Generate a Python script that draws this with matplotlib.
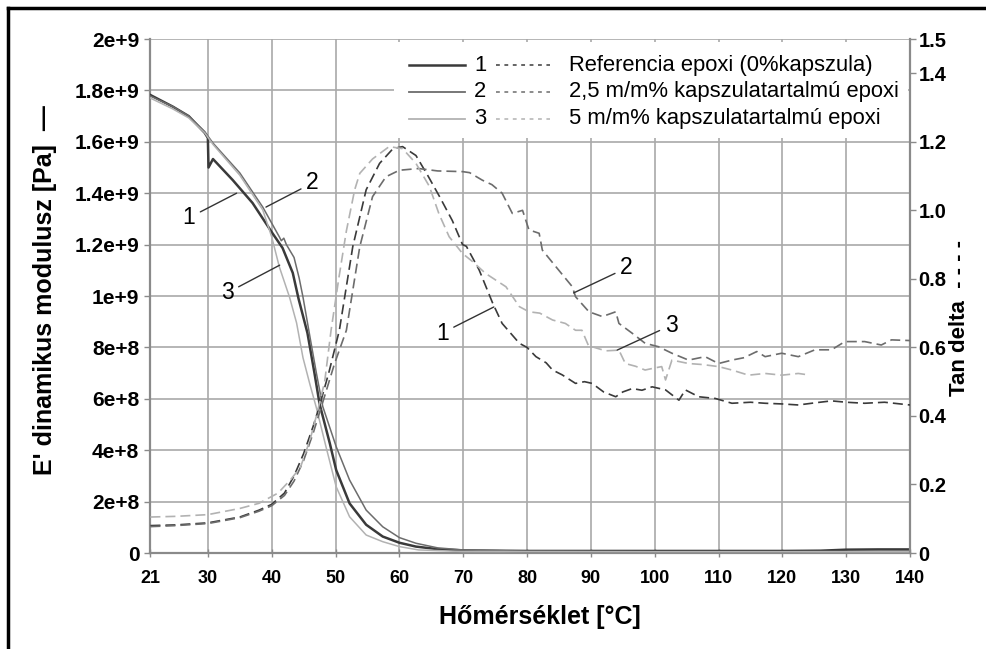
import numpy as np
import matplotlib.pyplot as plt
from matplotlib.patches import Rectangle
from matplotlib.lines import Line2D

plt.rcParams['font.family'] = ['Liberation Sans', 'DejaVu Sans']

# E' dinamikus modulusz (Pa), solid curves
t_e1 = [21, 24.5, 27, 29.5, 30, 30.1, 30.8, 33.9, 37, 40.1, 41.7, 43.3, 44.2, 45.6, 46.7,
        47.5, 49.1, 50.1, 52.2, 54.8, 57.4, 60, 62.6, 66, 70, 80, 100, 120, 126, 130, 135, 140]
e1 = [1.782, 1.737, 1.70, 1.635, 1.615, 1.50, 1.533, 1.451, 1.362, 1.245, 1.187, 1.09, 0.99, 0.856, 0.70,
      0.58, 0.427, 0.323, 0.193, 0.11, 0.064, 0.04, 0.025, 0.015, 0.01, 0.008, 0.008, 0.008, 0.009, 0.013, 0.014, 0.014]

t_e2 = [21, 24.5, 27, 29.5, 30.8, 35, 38.6, 41.2, 41.5, 41.9, 42.3, 43.5, 44.3, 44.9, 46, 47, 48,
        50.1, 52.2, 54.8, 57.4, 60, 62.6, 66, 70, 80, 100, 120, 140]
e2 = [1.778, 1.737, 1.70, 1.64, 1.595, 1.479, 1.346, 1.23, 1.215, 1.225, 1.2, 1.15, 1.07, 0.996, 0.84, 0.70, 0.57,
      0.414, 0.284, 0.167, 0.102, 0.06, 0.038, 0.02, 0.012, 0.007, 0.006, 0.006, 0.007]

t_e3 = [21, 24.5, 27, 29.5, 30.8, 35, 38.6, 40, 41.2, 42.8, 43.9, 44.9, 46, 47, 48.5, 50.1, 52.2,
        54.8, 57.4, 60, 63, 70, 100, 140]
e3 = [1.77, 1.728, 1.693, 1.635, 1.59, 1.47, 1.335, 1.23, 1.113, 0.995, 0.895, 0.76, 0.655, 0.565, 0.414, 0.258, 0.141,
      0.07, 0.044, 0.025, 0.012, 0.006, 0.005, 0.005]

# Tan delta, dashed curves
t_d1 = [21, 25, 30, 35, 38, 40, 42, 43.5, 45, 46.5, 47.5, 49, 50.6, 52.7, 54.8, 56.9, 59, 60.5, 62.6, 64.5,
        66.3, 68.3, 69.9, 70.5, 72.5, 74.6, 76.1, 77.5, 78.8, 80, 81.4, 83, 84, 85.5, 87.6, 89, 90.2, 92,
        93.9, 95, 96.5, 98, 99.6, 101.7, 103.8, 104.8, 106.9, 109.5, 112.1, 115, 117.3, 120, 122.5, 125,
        127.7, 130, 132.9, 136, 140]
d1 = [0.08, 0.082, 0.088, 0.105, 0.125, 0.142, 0.175, 0.225, 0.29, 0.37, 0.43, 0.53, 0.65, 0.894, 1.06, 1.137, 1.18, 1.186, 1.16, 1.10,
      1.04, 0.97, 0.90, 0.895, 0.826, 0.73, 0.67, 0.64, 0.612, 0.60, 0.573, 0.555, 0.534, 0.52, 0.495, 0.50, 0.495, 0.47,
      0.456, 0.47, 0.48, 0.475, 0.485, 0.476, 0.446, 0.476, 0.456, 0.451, 0.437, 0.44, 0.437, 0.435, 0.432, 0.438,
      0.444, 0.44, 0.437, 0.44, 0.432]

t_d2 = [21, 25, 30, 35, 38, 40, 42, 43.5, 45, 46.5, 48, 49.8, 51.7, 53.8, 55.8, 57.9, 60, 63, 66, 69.9, 71,
        73, 74.5, 76.1, 77.7, 79.3, 80.3, 81.9, 82.4, 84.5, 87.1, 87.6, 89.7, 91.8, 93.9, 94.4, 96.5, 98.5,
        100.6, 102.7, 105.3, 107.9, 110, 112.1, 114, 116, 117.3, 119.9, 122.5, 125.1, 127.7, 129.8, 132.9,
        135.5, 137.1, 140]
d2 = [0.077, 0.08, 0.086, 0.103, 0.122, 0.138, 0.168, 0.21, 0.27, 0.35, 0.44, 0.55, 0.65, 0.894, 1.04, 1.098, 1.117, 1.122, 1.115, 1.113, 1.11,
      1.088, 1.075, 1.05, 0.991, 1.0, 0.943, 0.933, 0.884, 0.836, 0.777, 0.748, 0.704, 0.69, 0.704, 0.67, 0.641, 0.612,
      0.602, 0.583, 0.563, 0.573, 0.553, 0.563, 0.57, 0.588, 0.573, 0.583, 0.573, 0.593, 0.593, 0.617, 0.617,
      0.607, 0.622, 0.62]

t_d3 = [21, 25, 30, 35, 38, 41, 43, 44.5, 46, 47, 48.3, 49.3, 50.5, 51.7, 53, 53.8, 55.8, 58.4, 60.5, 62.6,
        64.7, 66.2, 67.8, 69.9, 71.5, 73.5, 76.7, 78.8, 80.3, 82, 84, 86, 87.6, 88.6, 89.7, 90.2, 92.3, 94.4,
        95.4, 97, 98.5, 100, 101.1, 101.7, 102.7, 105.3, 107.5, 110, 112.1, 114.7, 117.3, 119.9, 122.5, 124]
d3 = [0.105, 0.107, 0.112, 0.13, 0.145, 0.175, 0.215, 0.25, 0.33, 0.40, 0.50, 0.65, 0.80, 0.94, 1.06, 1.108, 1.15, 1.186, 1.18, 1.137,
      1.07, 0.99, 0.923, 0.874, 0.85, 0.816, 0.777, 0.719, 0.704, 0.70, 0.68, 0.67, 0.65, 0.65, 0.602, 0.602, 0.59, 0.592,
      0.553, 0.545, 0.534, 0.54, 0.544, 0.505, 0.563, 0.553, 0.55, 0.544, 0.534, 0.519, 0.524, 0.519, 0.524, 0.52]

x_ticks = [21, 30, 40, 50, 60, 70, 80, 90, 100, 110, 120, 130, 140]
e_ticks = [0, 2e8, 4e8, 6e8, 8e8, 1e9, 1.2e9, 1.4e9, 1.6e9, 1.8e9, 2e9]
e_tick_labels = ['0', '2e+8', '4e+8', '6e+8', '8e+8', '1e+9', '1.2e+9', '1.4e+9', '1.6e+9', '1.8e+9', '2e+9']
d_ticks = [0, 0.2, 0.4, 0.6, 0.8, 1.0, 1.2, 1.4, 1.5]
d_tick_labels = ['0', '0.2', '0.4', '0.6', '0.8', '1.0', '1.2', '1.4', '1.5']

legend_labels = ['Referencia epoxi (0%kapszula)', '2,5 m/m% kapszulatartalmú epoxi',
                 '5 m/m% kapszulatartalmú epoxi']
colors = ['#3a3a3a', '#6c6c6c', '#b2b2b2']
solid_lw = [1.8, 1.1, 1.1]

fig = plt.figure(figsize=(9.87, 6.49), dpi=100)
ax = fig.add_axes([0.1524, 0.1479, 0.7696, 0.792])
ax2 = ax.twinx()

for t, e, c, lw in zip([t_e1, t_e2, t_e3], [e1, e2, e3], colors, solid_lw):
    ax.plot(t, np.array(e) * 1e9, color=c, lw=lw, zorder=3)
for t, d, c in zip([t_d1, t_d2, t_d3], [d1, d2, d3], colors):
    ax2.plot(t, d, color=c, lw=1.2, ls=(0, (6, 3)), zorder=3)

ax.set_xlim(21, 140)
ax.set_ylim(0, 2e9)
ax2.set_ylim(0, 1.5)
ax.set_xticks(x_ticks)
ax.set_yticks(e_ticks)
ax.set_yticklabels(e_tick_labels)
ax2.set_yticks(d_ticks)
ax2.set_yticklabels(d_tick_labels)

ax.grid(True, color='#a9a9a9', lw=1.2)
ax.set_axisbelow(True)
for a in (ax, ax2):
    a.spines['top'].set_visible(False)
    for s in ('left', 'right', 'bottom'):
        a.spines[s].set_color('#8a8a8a')
        a.spines[s].set_linewidth(1.6)
ax.spines['right'].set_visible(False)
ax2.spines['left'].set_visible(False)
ax2.spines['bottom'].set_visible(False)

ax.tick_params(axis='y', direction='out', length=4, width=1, color='#8a8a8a', pad=4,
               labelsize=15)
ax2.tick_params(axis='y', direction='out', length=4, width=1, color='#8a8a8a', pad=2,
                labelsize=14.5)
ax.tick_params(axis='x', direction='inout', length=6, width=1, color='#8a8a8a', pad=9)
for lab in ax.get_yticklabels() + ax2.get_yticklabels():
    lab.set_fontweight('bold')
for lab in ax.get_xticklabels():
    lab.set_fontweight('bold')
    lab.set_fontsize(13)
    lab.set_family(['Liberation Sans Narrow', 'Liberation Sans'])

fig.text(45 / 987, 1 - 290 / 649, "E' dinamikus modulusz [Pa]  \u2014", rotation=90,
         ha='center', va='center', fontsize=18, fontweight='bold')
fig.text(960 / 987, 1 - 318 / 649, 'Tan delta  - - - -', rotation=90,
         ha='center', va='center', fontsize=16, fontweight='bold')
fig.text(540 / 987, 1 - 617 / 649, 'Hőmérséklet [°C]', ha='center', va='center',
         fontsize=18, fontweight='bold')

# legend box
ax2.add_patch(Rectangle((0.321, 0.807), 0.676, 0.187, transform=ax2.transAxes,
                        facecolor='white', edgecolor='none', zorder=2))
rows = [0.949, 0.897, 0.845]
for i, (lab, c, lw) in enumerate(zip(legend_labels, colors, solid_lw)):
    y = rows[i]
    ax2.add_line(Line2D([0.340, 0.414], [y, y], transform=ax2.transAxes, color=c,
                        lw=max(lw, 1.3), zorder=4))
    ax2.text(0.434, y, str(i + 1), transform=ax2.transAxes, ha='center', va='center',
             fontsize=15.8, zorder=4)
    ax2.add_line(Line2D([0.455, 0.526], [y, y], transform=ax2.transAxes, color=c,
                        lw=1.1, ls=(0, (2.5, 3)), zorder=4))
    ax2.text(0.551, y, lab, transform=ax2.transAxes, ha='left', va='center',
             fontsize=15.8, zorder=4)

# curve labels
lead = dict(arrowstyle='-', color='#333333', lw=1.0, shrinkA=2, shrinkB=0)
ax.annotate('1', xy=(34.5, 1.40e9), xytext=(27.0, 1.304e9), fontsize=16.5,
            ha='center', va='center', arrowprops=lead, zorder=5)
ax.annotate('2', xy=(39.1, 1.346e9), xytext=(46.4, 1.44e9), fontsize=16.5,
            ha='center', va='center', arrowprops=lead, zorder=5)
ax.annotate('3', xy=(41.25, 1.12e9), xytext=(33.0, 1.012e9), fontsize=16.5,
            ha='center', va='center', arrowprops=lead, zorder=5)
ax2.annotate('2', xy=(87.3, 0.759), xytext=(95.6, 0.832), fontsize=16.5,
             ha='center', va='center', arrowprops=lead, zorder=5)
ax2.annotate('1', xy=(74.8, 0.718), xytext=(66.7, 0.642), fontsize=16.5,
             ha='center', va='center', arrowprops=lead, zorder=5)
ax2.annotate('3', xy=(94.1, 0.592), xytext=(102.6, 0.665), fontsize=16.5,
             ha='center', va='center', arrowprops=lead, zorder=5)

# image frame (top and left edges)
fig.add_artist(Line2D([8 / 987, 1], [1 - 8 / 649, 1 - 8 / 649], color='black', lw=2.5))
fig.add_artist(Line2D([8 / 987, 8 / 987], [0, 1 - 8 / 649], color='black', lw=2.5))

fig.savefig('out.png', dpi=100)
